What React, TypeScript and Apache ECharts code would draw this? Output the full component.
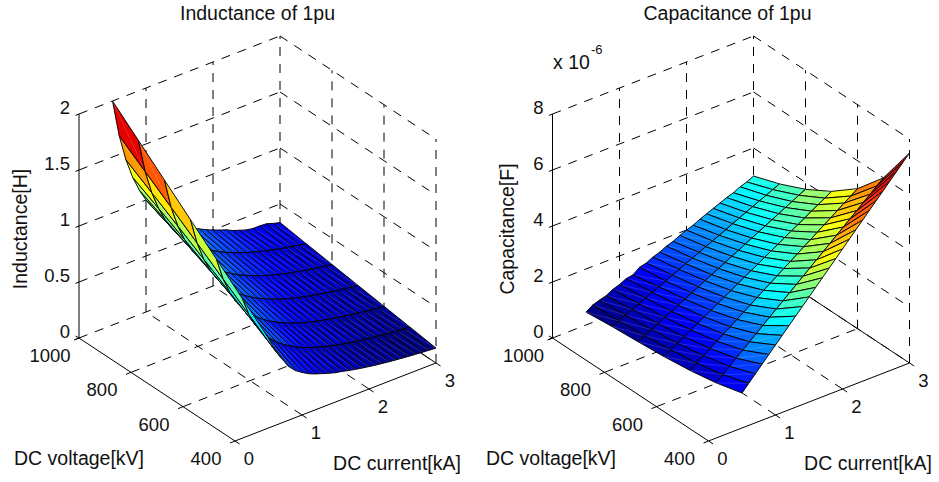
import React, { useEffect, useRef } from "react";
import * as echarts from "echarts";

// Sampled operating points
const currentsKA = [0.5,0.6,0.7,0.8,0.9,1.0,1.1,1.2,1.3,1.4,1.5,1.6,1.7,1.8,1.9,2.0,2.1,2.2,2.3,2.4,2.5,2.6,2.7,2.8,2.9,3.0];
const voltagesKV = [1000,900,800,700,600,500,400];

// Inductance [H], one list per voltage row
const L1000 = [2.0,1.667,1.429,1.25,1.111,1.0,0.909,0.833,0.769,0.714,0.667,0.625,0.588,0.556,0.526,0.5,0.476,0.455,0.425,0.405,0.385,0.375,0.375,0.37,0.35,0.335];
const L900 = [1.8,1.5,1.286,1.125,1.0,0.9,0.818,0.75,0.692,0.643,0.6,0.563,0.529,0.5,0.474,0.45,0.429,0.409,0.391,0.375,0.36,0.346,0.333,0.321,0.31,0.3];
const L800 = [1.6,1.333,1.143,1.0,0.889,0.8,0.727,0.667,0.615,0.571,0.533,0.5,0.471,0.444,0.421,0.4,0.381,0.364,0.348,0.333,0.32,0.308,0.296,0.286,0.276,0.267];
const L700 = [1.4,1.167,1.0,0.875,0.778,0.7,0.636,0.583,0.538,0.5,0.467,0.438,0.412,0.389,0.368,0.35,0.333,0.318,0.304,0.292,0.28,0.269,0.259,0.25,0.241,0.233];
const L600 = [1.2,1.0,0.857,0.75,0.667,0.6,0.545,0.5,0.462,0.429,0.4,0.375,0.353,0.333,0.316,0.3,0.286,0.273,0.261,0.25,0.24,0.231,0.222,0.214,0.207,0.2];
const L500 = [1.0,0.833,0.714,0.625,0.556,0.5,0.455,0.417,0.385,0.357,0.333,0.313,0.294,0.278,0.263,0.25,0.238,0.227,0.217,0.208,0.2,0.192,0.185,0.179,0.172,0.167];
const L400 = [0.8,0.667,0.571,0.48,0.42,0.38,0.345,0.32,0.3,0.28,0.262,0.25,0.235,0.222,0.211,0.2,0.19,0.182,0.174,0.167,0.16,0.154,0.148,0.143,0.138,0.133];

// Capacitance [x 1e-6 F], one list per voltage row
const C1000 = [0.46,0.62,0.7,0.77,0.9,0.98,1.1,1.14,1.32,1.38,1.5,1.58,1.7,1.78,1.9,2.0,2.08,2.2,2.3,2.4,2.5,2.6,2.68,2.8,2.88,3.0];
const C900 = [0.56,0.67,0.78,0.89,1.0,1.11,1.22,1.33,1.44,1.56,1.67,1.78,1.89,2.0,2.11,2.22,2.33,2.44,2.56,2.67,2.78,2.89,3.0,3.11,3.22,3.33];
const C800 = [0.63,0.75,0.88,1.0,1.13,1.25,1.38,1.5,1.63,1.75,1.88,2.0,2.13,2.25,2.38,2.5,2.63,2.75,2.88,3.0,3.13,3.25,3.38,3.5,3.63,3.75];
const C700 = [0.71,0.86,1.0,1.14,1.29,1.43,1.57,1.71,1.86,2.0,2.14,2.29,2.43,2.57,2.71,2.86,3.0,3.14,3.29,3.43,3.57,3.71,3.86,4.0,4.14,4.29];
const C600 = [0.83,1.0,1.17,1.33,1.5,1.67,1.83,2.0,2.17,2.33,2.5,2.67,2.83,3.0,3.17,3.33,3.5,3.67,3.83,4.0,4.17,4.33,4.5,4.67,4.83,5.0];
const C500 = [1.0,1.2,1.4,1.6,1.8,2.0,2.2,2.4,2.6,2.8,3.0,3.2,3.4,3.6,3.8,4.0,4.2,4.4,4.6,4.8,5.0,5.2,5.4,5.6,5.8,6.0];
const C400 = [1.25,1.5,1.75,2.0,2.25,2.5,2.75,3.0,3.25,3.5,3.75,4.0,4.25,4.5,4.75,5.0,5.25,5.5,5.75,6.0,6.25,6.5,6.75,7.0,7.25,7.5];

const inductanceRows = [L1000, L900, L800, L700, L600, L500, L400];
const capacitanceRows = [C1000, C900, C800, C700, C600, C500, C400];

// Tick labels
const currentTicks = [0, 1, 2, 3];
const voltageTicks = [1000, 800, 600, 400];
const inductanceTicks = ["0", "0.5", "1", "1.5", "2"];
const capacitanceTicks = ["0", "2", "4", "6", "8"];

const FONT = "Liberation Sans, Arial, Helvetica, sans-serif";
const TEXT = "#111";

function jet(frac: number) {
  const idx = Math.min(63, Math.max(0, Math.floor(frac * 64)));
  const t = (idx + 0.5) / 64;
  const ramp = (x: number) => Math.max(0, Math.min(1, x));
  const r = ramp(Math.min(4 * t - 1.5, 4.5 - 4 * t));
  const g = ramp(Math.min(4 * t - 0.5, 3.5 - 4 * t));
  const b = ramp(Math.min(4 * t + 0.5, 2.5 - 4 * t));
  return `rgb(${Math.round(r * 255)},${Math.round(g * 255)},${Math.round(b * 255)})`;
}

type Panel = {
  left: number;
  zScale: number;
  zMax: number;
  rows: number[][];
  zTickLabels: string[];
};

const GRID_TOP = 35;
const GRID_W = 358;
const GRID_H = 406;
const I_DX = 201, I_DY = -78, V_DX = 156, V_DY = 103, FLOOR = 303;

function project(p: Panel, I: number, V: number, z: number): number[] {
  const a = I / 3;
  const b = (1000 - V) / 600;
  return [a * I_DX + b * V_DX, FLOOR + a * I_DY + b * V_DY - z * p.zScale];
}

type Mark =
  | { t: "line"; a: number[]; b: number[]; dash: boolean }
  | { t: "tick"; a: number[]; dx: number; dy: number }
  | { t: "label"; a: number[]; dx: number; dy: number; text: string; align: string };

function scaffold(p: Panel): Mark[] {
  const m: Mark[] = [];
  const P = (I: number, V: number, z: number) => project(p, I, V, z);
  const zs = p.zTickLabels.map((s) => Number(s));
  // back walls
  zs.forEach((z) => {
    m.push({ t: "line", a: P(0, 1000, z), b: P(3, 1000, z), dash: true });
    m.push({ t: "line", a: P(3, 1000, z), b: P(3, 400, z), dash: true });
  });
  currentTicks.slice(1).forEach((I) => m.push({ t: "line", a: P(I, 1000, 0), b: P(I, 1000, p.zMax), dash: true }));
  voltageTicks.slice(1).forEach((V) => m.push({ t: "line", a: P(3, V, 0), b: P(3, V, p.zMax), dash: true }));
  // floor
  currentTicks.slice(1, 3).forEach((I) => m.push({ t: "line", a: P(I, 400, 0), b: P(I, 1000, 0), dash: true }));
  voltageTicks.slice(1, 3).forEach((V) => m.push({ t: "line", a: P(0, V, 0), b: P(3, V, 0), dash: true }));
  // solid axes
  m.push({ t: "line", a: P(0, 1000, 0), b: P(0, 1000, p.zMax), dash: false });
  m.push({ t: "line", a: P(0, 1000, 0), b: P(0, 400, 0), dash: false });
  m.push({ t: "line", a: P(0, 400, 0), b: P(3, 400, 0), dash: false });
  m.push({ t: "line", a: P(3, 1000, 0), b: P(3, 400, 0), dash: false });
  // ticks and labels
  p.zTickLabels.forEach((s) => {
    const a = P(0, 1000, Number(s));
    m.push({ t: "tick", a, dx: -3.5, dy: 1.4 });
    m.push({ t: "label", a, dx: -9, dy: -7, text: s, align: "right" });
  });
  m.push({ t: "tick", a: P(0, 1000, 0), dx: -3.5, dy: -2 });
  voltageTicks.forEach((V) => {
    const a = P(0, V, 0);
    m.push({ t: "tick", a, dx: -5, dy: 2 });
    m.push({ t: "label", a, dx: -29, dy: 17.5, text: String(V), align: "center" });
  });
  currentTicks.forEach((I) => {
    const a = P(I, 400, 0);
    m.push({ t: "tick", a, dx: 4.6, dy: 3 });
    m.push({ t: "label", a, dx: 14, dy: 17.5, text: String(I), align: "center" });
  });
  return m;
}

function scaffoldSeries(p: Panel, gridIndex: number) {
  const marks = scaffold(p);
  return {
    type: "custom",
    coordinateSystem: "cartesian2d",
    xAxisIndex: gridIndex,
    yAxisIndex: gridIndex,
    silent: true,
    clip: false,
    z: 1,
    data: marks.map((_, i) => [i]),
    renderItem: (params: any, api: any) => {
      const k = marks[params.dataIndex];
      const c = api.coord(k.a);
      if (k.t === "line") {
        const d = api.coord(k.b);
        return {
          type: "line",
          shape: { x1: c[0], y1: c[1], x2: d[0], y2: d[1] },
          style: { stroke: "#000", lineWidth: 1, lineDash: k.dash ? [9, 8] : null },
        };
      }
      if (k.t === "tick") {
        return {
          type: "line",
          shape: { x1: c[0], y1: c[1], x2: c[0] + k.dx, y2: c[1] + k.dy },
          style: { stroke: "#000", lineWidth: 1 },
        };
      }
      return {
        type: "text",
        x: c[0] + k.dx,
        y: c[1] + k.dy,
        style: { text: k.text, fontSize: 18.5, fontFamily: FONT, fill: TEXT, align: k.align, verticalAlign: "middle" },
      };
    },
  };
}

function surfaceSeries(p: Panel, gridIndex: number) {
  const flat = p.rows.reduce((acc: number[], r) => acc.concat(r), []);
  const lo = Math.min(...flat);
  const hi = Math.max(...flat);
  const cells: number[][] = [];
  for (let r = 0; r < voltagesKV.length - 1; r++) {
    for (let c = currentsKA.length - 2; c >= 0; c--) cells.push([c, r]);
  }
  return {
    type: "custom",
    coordinateSystem: "cartesian2d",
    xAxisIndex: gridIndex,
    yAxisIndex: gridIndex,
    silent: true,
    clip: false,
    z: 2,
    data: cells,
    renderItem: (params: any, api: any) => {
      const [c, r] = cells[params.dataIndex];
      const pt = (cc: number, rr: number) =>
        api.coord(project(p, currentsKA[cc], voltagesKV[rr], p.rows[rr][cc]));
      const a = pt(c, r);
      const b = pt(c + 1, r);
      const d = pt(c + 1, r + 1);
      const e = pt(c, r + 1);
      const fill = jet((p.rows[r + 1][c] - lo) / (hi - lo));
      return {
        type: "group",
        children: [
          { type: "polygon", shape: { points: [a, b, d, e] }, style: { fill, stroke: "#000", lineWidth: 0.95, lineJoin: "round" } },
          {
            type: "line",
            shape: { x1: a[0], y1: a[1], x2: d[0], y2: d[1] },
            style: { stroke: "rgba(255,255,255,0.25)", lineWidth: 0.6 },
          },
        ],
      };
    },
  };
}

const leftPanel: Panel = { left: 79, zScale: 112, zMax: 2, rows: inductanceRows, zTickLabels: inductanceTicks };
const rightPanel: Panel = { left: 552.5, zScale: 28, zMax: 8, rows: capacitanceRows, zTickLabels: capacitanceTicks };

function text(x: number, y: number, value: string, size = 19.5, rotation = 0, align = "center") {
  return {
    type: "text",
    x,
    y,
    rotation,
    silent: true,
    style: { text: value, fontSize: size, fontFamily: FONT, fill: TEXT, align, verticalAlign: "middle" },
  };
}

export default function App() {
  const ref = useRef<HTMLDivElement>(null);
  useEffect(() => {
    const chart = echarts.init(ref.current!, null, { renderer: "svg" });
    const panels = [leftPanel, rightPanel];
    chart.setOption({
      animation: false,
      backgroundColor: "#fff",
      title: [
        { text: "Inductance of 1pu", left: 252.5, top: -2, textAlign: "center", textStyle: { fontSize: 19.5, fontWeight: "normal", fontFamily: FONT, color: TEXT } },
        { text: "Capacitance of 1pu", left: 722.5, top: -2, textAlign: "center", textStyle: { fontSize: 19.5, fontWeight: "normal", fontFamily: FONT, color: TEXT } },
      ],
      grid: panels.map((p) => ({ left: p.left, top: GRID_TOP, width: GRID_W, height: GRID_H })),
      xAxis: panels.map((_, i) => ({ type: "value", gridIndex: i, min: 0, max: GRID_W, show: false })),
      yAxis: panels.map((_, i) => ({ type: "value", gridIndex: i, min: 0, max: GRID_H, inverse: true, show: false })),
      series: [
        scaffoldSeries(leftPanel, 0),
        surfaceSeries(leftPanel, 0),
        scaffoldSeries(rightPanel, 1),
        surfaceSeries(rightPanel, 1),
      ],
      graphic: [
        text(20, 229, "Inductance[H]", 19.5, Math.PI / 2),
        text(79, 458, "DC voltage[kV]"),
        text(397, 463, "DC current[kA]"),
        text(507, 229, "Capacitance[F]", 19.5, Math.PI / 2),
        text(551, 458, "DC voltage[kV]"),
        text(868, 463, "DC current[kA]"),
        text(553, 62, "x 10", 19.5, 0, "left"),
        text(591, 49, "-6", 13, 0, "left"),
      ],
    });
    return () => chart.dispose();
  }, []);
  return <div ref={ref} style={{ position: "absolute", left: 0, top: 0, width: 939, height: 482 }} />;
}
